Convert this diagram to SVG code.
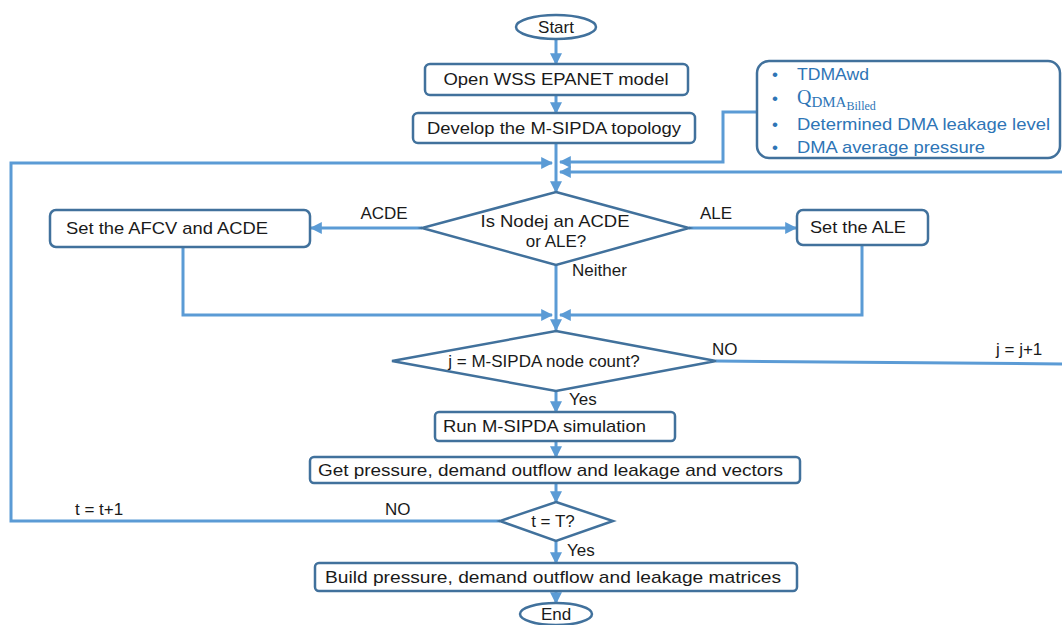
<svg xmlns="http://www.w3.org/2000/svg" width="1062" height="625" viewBox="0 0 1062 625">
  <defs>
    <marker id="arr" viewBox="0 0 10 10" refX="9" refY="5" markerWidth="4" markerHeight="4" orient="auto" markerUnits="strokeWidth">
      <path d="M0,0 L10,5 L0,10 Z" fill="#5b9bd5"/>
    </marker>
    <style>
      .box { fill: #ffffff; stroke: #41719c; stroke-width: 2.5; }
      .dia { fill: #ffffff; stroke: #41719c; stroke-width: 2.5; stroke-linejoin: miter; }
      .info { fill: #ffffff; stroke: #41719c; stroke-width: 2.5; }
      .ln { fill: none; stroke: #5b9bd5; stroke-width: 3; }
      .ar { fill: none; stroke: #5b9bd5; stroke-width: 3; marker-end: url(#arr); }
      .t { font-family: "Liberation Sans", Arial, sans-serif; font-size: 17px; fill: #1a1a1a; }
      .c { text-anchor: middle; }
      .b { font-family: "Liberation Sans", Arial, sans-serif; font-size: 17px; fill: #2e75b6; }
      .m { font-family: "Liberation Serif", "DejaVu Serif", serif; fill: #2e75b6; }
    </style>
  </defs>

  <!-- connectors -->
  <g id="connectors">
    <line class="ar" x1="556" y1="39" x2="556" y2="64"/>
    <line class="ar" x1="556" y1="95" x2="556" y2="113"/>
    <line class="ar" x1="556" y1="143" x2="556" y2="192"/>
    <!-- time loop return -->
    <polyline class="ar" points="500,521 11,521 11,163 552,163"/>
    <!-- inputs from info panel -->
    <polyline class="ar" points="757,112 723,112 723,162 560,162"/>
    <!-- node loop return (runs off the right edge) -->
    <polyline class="ar" points="1062,172 560,172"/>
    <!-- branch decisions -->
    <line class="ar" x1="422" y1="228" x2="311" y2="228"/>
    <line class="ar" x1="689" y1="228" x2="796" y2="228"/>
    <polyline class="ar" points="183,247 183,315 552,315"/>
    <polyline class="ar" points="862,245 862,315 560,315"/>
    <line class="ar" x1="556" y1="265" x2="556" y2="330"/>
    <!-- node count check -->
    <polyline class="ln" points="716,361 1062,364"/>
    <line class="ar" x1="556" y1="391" x2="556" y2="412"/>
    <line class="ar" x1="556" y1="441" x2="556" y2="457"/>
    <line class="ar" x1="556" y1="483" x2="556" y2="502"/>
    <line class="ar" x1="556" y1="541" x2="556" y2="563"/>
    <line class="ar" x1="556" y1="591" x2="556" y2="603"/>
  </g>

  <g id="start">
    <ellipse class="box" cx="556" cy="27" rx="40" ry="12"/>
    <text class="t c" x="556" y="33">Start</text>
  </g>

  <g id="open-model">
    <rect class="box" x="425" y="64" width="263" height="31" rx="5"/>
    <text class="t c" x="556" y="85" textLength="225" lengthAdjust="spacingAndGlyphs">Open WSS EPANET  model</text>
  </g>

  <g id="develop-topology">
    <rect class="box" x="413" y="113" width="282" height="30" rx="5"/>
    <text class="t c" x="554" y="134" textLength="254" lengthAdjust="spacingAndGlyphs">Develop the M-SIPDA topology</text>
  </g>

  <g id="inputs">
    <rect class="info" x="757" y="61" width="303" height="97" rx="12"/>
    <text class="b" x="772" y="80">•</text>
    <text class="b" x="797" y="80" textLength="72" lengthAdjust="spacingAndGlyphs">TDMAwd</text>
    <text class="b" x="772" y="104">•</text>
    <text class="m" x="797" y="104" font-size="20">Q<tspan font-size="15" dy="3">DMA</tspan><tspan font-size="12" dy="3">Billed</tspan></text>
    <text class="b" x="772" y="130">•</text>
    <text class="b" x="797" y="130" textLength="253" lengthAdjust="spacingAndGlyphs">Determined  DMA  leakage level</text>
    <text class="b" x="772" y="153">•</text>
    <text class="b" x="797" y="153" textLength="188" lengthAdjust="spacingAndGlyphs">DMA average pressure</text>
  </g>

  <g id="node-type">
    <polygon class="dia" points="556,192 689,228 556,265 422,228"/>
    <text class="t c" x="555" y="227" textLength="149" lengthAdjust="spacingAndGlyphs">Is Nodej an ACDE</text>
    <text class="t c" x="556" y="247">or ALE?</text>
  </g>

  <g id="set-afcv">
    <rect class="box" x="50" y="210" width="260" height="37" rx="6"/>
    <text class="t" x="66" y="234" textLength="202" lengthAdjust="spacingAndGlyphs">Set the AFCV  and ACDE</text>
  </g>

  <g id="set-ale">
    <rect class="box" x="797" y="210" width="131" height="35" rx="6"/>
    <text class="t" x="810" y="233" textLength="96" lengthAdjust="spacingAndGlyphs">Set the ALE</text>
  </g>

  <g id="branch-labels">
    <text class="t c" x="384" y="219">ACDE</text>
    <text class="t c" x="716" y="219">ALE</text>
    <text class="t" x="572" y="276">Neither</text>
  </g>

  <g id="node-count">
    <polygon class="dia" points="556,331 716,361 556,391 392,361"/>
    <text class="t c" x="544" y="367">j = M-SIPDA node count?</text>
    <text class="t" x="712" y="355">NO</text>
    <text class="t" x="996" y="355">j = j+1</text>
    <text class="t" x="569" y="405">Yes</text>
  </g>

  <g id="run-sim">
    <rect class="box" x="435" y="412" width="240" height="29" rx="4"/>
    <text class="t" x="443" y="432" textLength="203" lengthAdjust="spacingAndGlyphs">Run M-SIPDA simulation</text>
  </g>

  <g id="get-vectors">
    <rect class="box" x="310" y="457" width="490" height="26" rx="4"/>
    <text class="t" x="318" y="476" textLength="465" lengthAdjust="spacingAndGlyphs">Get  pressure, demand  outflow and leakage and vectors</text>
  </g>

  <g id="time-check">
    <polygon class="dia" points="556,502 613,521 556,541 500,521"/>
    <text class="t c" x="553" y="527">t = T?</text>
    <text class="t" x="385" y="515">NO</text>
    <text class="t" x="75" y="515">t = t+1</text>
    <text class="t" x="567" y="556">Yes</text>
  </g>

  <g id="build-matrices">
    <rect class="box" x="315" y="563" width="482" height="28" rx="4"/>
    <text class="t" x="325" y="583" textLength="456" lengthAdjust="spacingAndGlyphs">Build pressure, demand  outflow and leakage matrices</text>
  </g>

  <g id="end">
    <ellipse class="box" cx="556" cy="614" rx="36" ry="11"/>
    <text class="t c" x="556" y="620">End</text>
  </g>
</svg>
